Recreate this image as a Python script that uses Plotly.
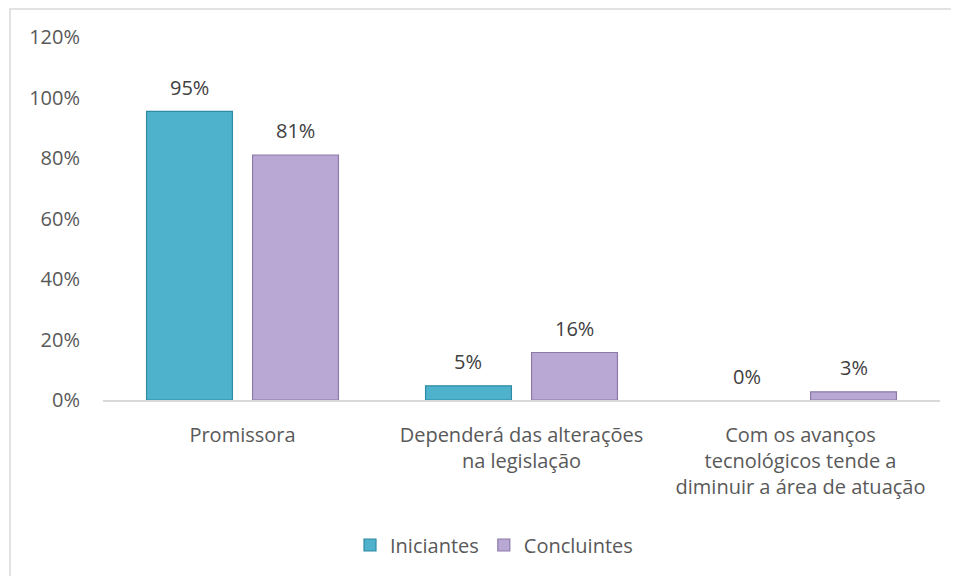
import plotly.graph_objects as go

categories = ["Promissora",
              "Dependerá das alterações<br>na legislação",
              "Com os avanços<br>tecnológicos tende a<br>diminuir a área de atuação"]
iniciantes = [0.954, 0.047, 0.0]
concluintes = [0.81, 0.157, 0.027]
series_names = ["Iniciantes", "Concluintes"]
y_ticks = [0, 0.2, 0.4, 0.6, 0.8, 1.0, 1.2]

W, H = 959, 576
OFF = 8  # page body margin
L, R, T = 103 - OFF, 19 + OFF, 37 - OFF
B = H - (400 - OFF)
pw, ph = W - L - R, H - T - B

font = "Open Sans, Lato, sans-serif"
txt = "#595959"

fig = go.Figure()
fig.add_trace(go.Bar(x=categories, y=iniciantes, name=series_names[0],
                     marker=dict(color="#4fb2cc",
                                 line=dict(color="#2f8aa3", width=[1.2 if v > 0 else 0 for v in iniciantes]))))
fig.add_trace(go.Bar(x=categories, y=concluintes, name=series_names[1],
                     marker=dict(color="#b9a8d4",
                                 line=dict(color="#8c79a8", width=[1.2 if v > 0 else 0 for v in concluintes]))))

slot = pw / 3 * (1 - 0.24) / 2
annotations = []
for vals, sh in ((iniciantes, -slot / 2), (concluintes, slot / 2)):
    for c, v in zip(categories, vals):
        annotations.append(dict(x=c, y=v, xref="x", yref="y", text=f"{round(v*100)}%",
                                showarrow=False, xshift=sh, yshift=24, yanchor="middle",
                                font=dict(family=font, size=20, color="#404040")))

def px2py(py):
    return (H - B - (py - OFF)) / ph

def px2px(px):
    return ((px - OFF) - L) / pw

fig.update_layout(
    width=W, height=H,
    margin=dict(l=L, r=R, t=T, b=B),
    paper_bgcolor="white", plot_bgcolor="white",
    barmode="group", bargap=0.24, bargroupgap=0.19,
    font=dict(family=font, size=20, color=txt),
    showlegend=True,
    legend=dict(orientation="h", x=px2px(494), xanchor="center", y=px2py(545), yanchor="middle",
                font=dict(family=font, size=20, color=txt), itemwidth=30, traceorder="normal"),
    annotations=annotations,
    shapes=[dict(type="rect", xref="paper", yref="paper",
                 x0=px2px(10), x1=px2px(W + 40), y0=px2py(H + 40), y1=px2py(9),
                 line=dict(color="#d9d9d9", width=1.5), fillcolor="rgba(0,0,0,0)", layer="below")],
    xaxis=dict(showgrid=False, showline=True, linecolor="#d9d9d9", linewidth=2,
               ticks="", tickfont=dict(family=font, size=20, color=txt), ticklabelstandoff=16),
    yaxis=dict(range=[0, 1.2], tickvals=y_ticks, tickformat=".0%", showgrid=False,
               zeroline=False, showline=False, ticks="", ticklabelstandoff=22,
               tickfont=dict(family=font, size=20, color=txt)),
)

fig.write_html("out.html")
